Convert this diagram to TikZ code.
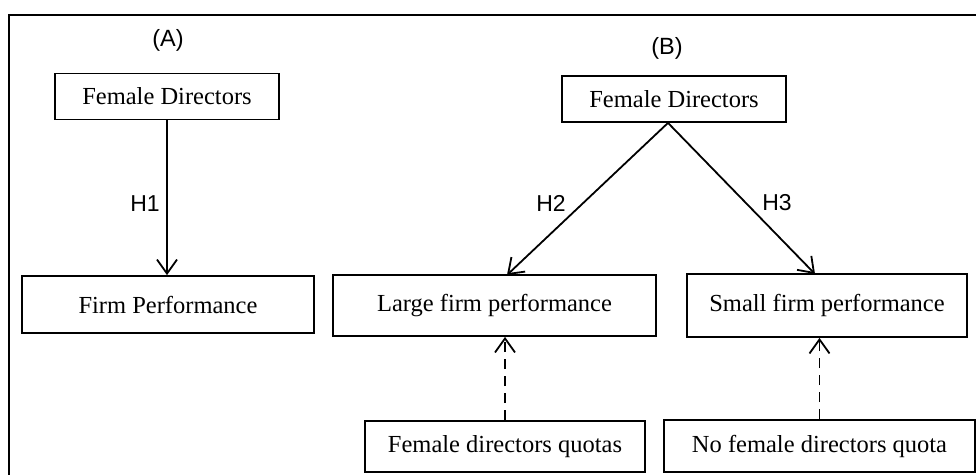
\documentclass[tikz,border=0pt]{standalone}
\usepackage{fontspec}
\setmainfont{Liberation Serif}
\newfontfamily\labelfont{Liberation Sans}
\usetikzlibrary{arrows.meta,calc}

\tikzset{
  box/.style={draw, line width=1.8pt, inner sep=0pt, align=center,
    font=\fontsize{24.5}{28}\selectfont},
  tag/.style={inner sep=0pt, font=\labelfont\fontsize{23}{26}\selectfont},
  panel/.style={inner sep=0pt, font=\labelfont\fontsize{23.5}{27}\selectfont},
  link/.style={line width=1.8pt, -{Straight Barb[length=14pt,width=20pt,line width=1.8pt]}},
  dashlink/.style={link, dash pattern=on 10pt off 7pt},
  frame/.style={line width=1.6pt}
}

\begin{document}
\begin{tikzpicture}[x=1pt, y=-1pt]
  \useasboundingbox (0,0) rectangle (976,474);
  \fill[white] (0,0) rectangle (976,474);

  % outer frame (continues past the page edges)
  \draw[frame] (9,490) -- (9,15) -- (990,15);

  % panel (A): single hypothesis
  \node[panel] (labA) at (168,40) {(A)};
  \node[box, minimum width=224pt, minimum height=46pt] (fdA) at (167,96.5) {Female Directors};
  \node[box, minimum width=292pt, minimum height=57pt] (firm) at (168,304.5) {Firm Performance};
  \draw[link] (fdA.south) -- (fdA.south |- firm.north);
  \node[tag] (h1) at (145,204) {H1};

  % panel (B): split by firm size
  \node[panel] (labB) at (667,48) {(B)};
  \node[box, minimum width=224pt, minimum height=46pt] (fdB) at (674,99) {Female Directors};
  \node[box, minimum width=323pt, minimum height=61pt] (large) at (494.5,305.5) {Large firm performance};
  \node[box, minimum width=280pt, minimum height=63pt] (small) at (827,305.5) {Small firm performance};
  \node[box, minimum width=280pt, minimum height=51pt] (quota) at (505,446.5) {Female directors quotas};
  \node[box, minimum width=311pt, minimum height=52pt] (noquota) at (819.5,446) {No female directors quota};

  \coordinate (apex) at ($(fdB.south)+(-6,0)$);
  \coordinate (tipL) at (507,275);
  \coordinate (tipS) at (815,274);
  \draw[link] (apex) -- (tipL);
  \draw[link] (apex) -- (tipS);
  \node[tag] (h2) at (551,203) {H2};
  \node[tag] (h3) at (777,203) {H3};

  % moderating quota regimes
  \draw[dashlink] (quota.north) -- (quota.north |- large.south);
  \draw[dashlink] (noquota.north) -- (noquota.north |- small.south);
\end{tikzpicture}
\end{document}
